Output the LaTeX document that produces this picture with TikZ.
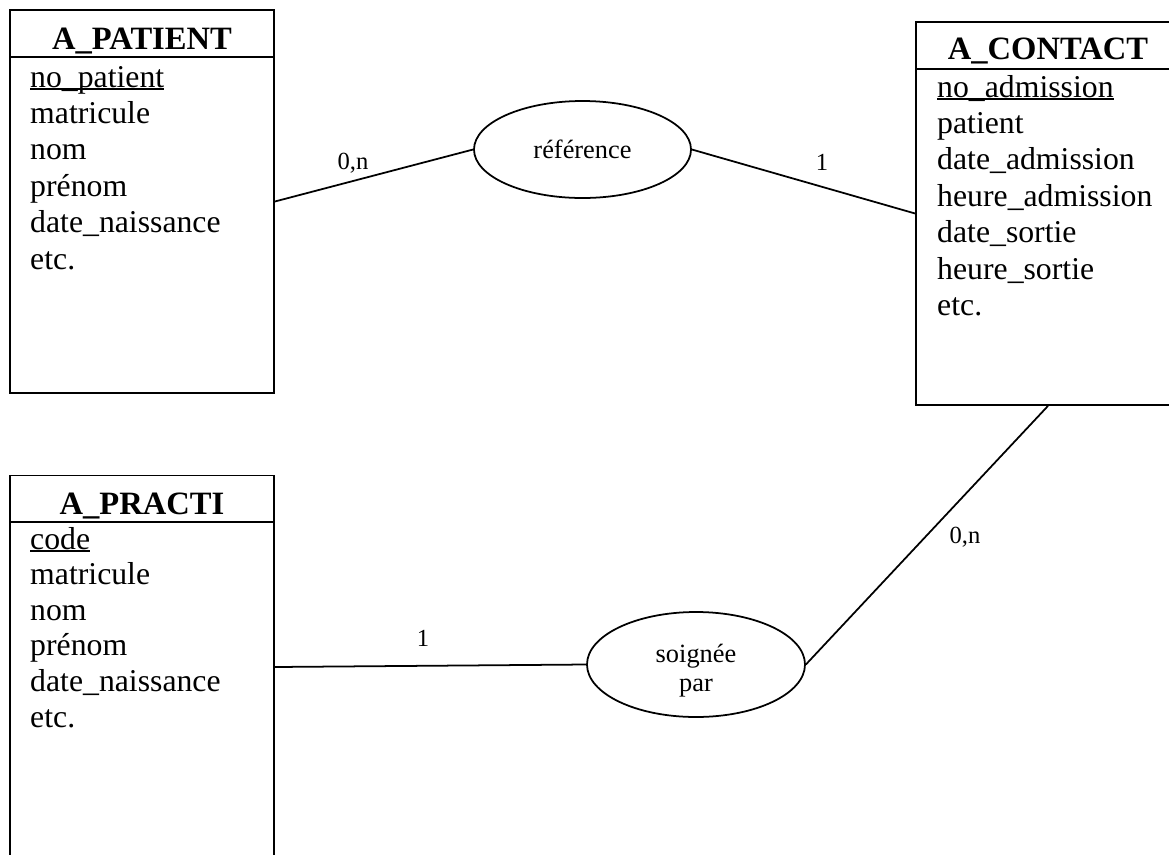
\documentclass[tikz,border=0pt]{standalone}
\usepackage{fontspec}
\setmainfont{Liberation Serif}
\usetikzlibrary{shapes.geometric}

%key attribute: thick underline close to the baseline
\newcommand{\keyattr}[1]{\setbox0\hbox{#1}\rlap{\rule[-2.4pt]{\wd0}{1.5pt}}\box0}

\begin{document}
\begin{tikzpicture}[x=0.03cm, y=-0.03cm,
    entity/.style={draw, line width=1.5pt, inner sep=0pt, minimum width=7.92cm, minimum height=11.49cm},
    relation/.style={draw, ellipse, line width=1.5pt, inner sep=0pt, align=center, font=\fontsize{22.5}{24.7}\selectfont},
    title/.style={anchor=base, inner sep=0pt, font=\fontsize{27.8}{31}\selectfont\bfseries},
    attr/.style={anchor=base west, inner sep=0pt, font=\fontsize{27.1}{31}\selectfont},
    card/.style={inner sep=0pt, font=\fontsize{21}{24}\selectfont},
    link/.style={line width=1.5pt}]

    \clip (0,0) rectangle (1169,854);

    %entity boxes (contact and practi run past the page edge)
    \node[entity] (patient) at (142,201.5) {};
    \node[entity] (contact) at (1048,213.5) {};
    \node[entity] (practi) at (142,667) {};

    %titles with the line under them
    \node[title] (patient title) at (142,49) {A\_PATIENT};
    \node[title] (contact title) at (1048,59) {A\_CONTACT};
    \node[title] (practi title) at (142,514) {A\_PRACTI};
    \draw[link] (10,57) -- (274,57);
    \draw[link] (916,69) -- (1180,69);
    \draw[link] (10,522) -- (274,522);

    %attributes, key underlined
    \foreach \i/\txt in {0/\keyattr{no\_patient}, 1/matricule, 2/nom, 3/prénom, 4/date\_naissance, 5/etc.}
        \node[attr] (patient attr \i) at (30, {87+36.4*\i}) {\txt};
    \foreach \i/\txt in {0/\keyattr{no\_admission}, 1/patient, 2/date\_admission, 3/heure\_admission, 4/date\_sortie, 5/heure\_sortie, 6/etc.}
        \node[attr] (contact attr \i) at (937, {97+36.4*\i}) {\txt};
    \foreach \i/\txt in {0/\keyattr{code}, 1/matricule, 2/nom, 3/prénom, 4/date\_naissance, 5/etc.}
        \node[attr] (practi attr \i) at (30, {549+35.6*\i}) {\txt};

    %associations
    \node[relation, minimum width=6.51cm, minimum height=2.91cm] (ref) at (582.5,149.5) {référence};
    \node[relation, minimum width=6.54cm, minimum height=3.15cm] (soin) at (696,664.5)
        {\raisebox{-0.2cm}[\height][\depth]{\begin{tabular}{@{}c@{}}soignée\\par\end{tabular}}};

    %links
    \draw[link] (patient.east) -- (ref.west);
    \draw[link] (ref.east) -- (contact.west);
    \draw[link] (practi.east) -- (soin.west);
    \draw[link] (soin.east) -- (contact.south);

    %cardinalities
    \node[card] (card patient) at (353,163) {0,n};
    \node[card] (card contact) at (822,162) {1};
    \node[card] (card practi) at (423,638) {1};
    \node[card] (card soin) at (965,537) {0,n};
\end{tikzpicture}
\end{document}
